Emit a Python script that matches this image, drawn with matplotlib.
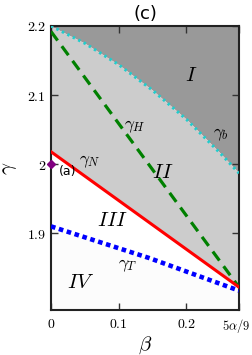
import matplotlib
matplotlib.use("Agg")
import matplotlib.pyplot as plt
import matplotlib.transforms as mtransforms
import numpy as np

plt.rcParams['mathtext.fontset'] = 'cm'

XMAX = 5.0 / 18.0
# boundary curves
beta_b = [0.0, 0.05, 0.10, 0.15, 0.20, 0.25, XMAX]
gamma_b = [2.200, 2.175, 2.144, 2.107, 2.065, 2.016, 1.987]

beta_H = [0.0, XMAX]
gamma_H = [2.192, 1.822]

beta_N = [0.0, XMAX]
gamma_N = [2.018, 1.822]

beta_T = [0.0, 0.1456, XMAX]
gamma_T = [1.910, 1.864, 1.817]

point_a = (0.0, 2.0)

xticks = [0.0, 0.1, 0.2, XMAX]
xticklabels = [r'$0$', r'$0.1$', r'$0.2$', r'$5\alpha/9$']
yticks = [1.9, 2.0, 2.1, 2.2]
yticklabels = [r'$1.9$', r'$2$', r'$2.1$', r'$2.2$']

YMIN, YMAX = 1.789, 2.2

fig = plt.figure(figsize=(2.53, 3.55), dpi=100)
ax = fig.add_axes([0.2016, 0.1268, 0.7431, 0.8000])

bb = np.array(beta_b); gb = np.array(gamma_b)
bT = np.array(beta_T); gT = np.array(gamma_T)
bN = np.array(beta_N); gN = np.array(gamma_N)

# region fills
ax.fill_between(bb, gb, YMAX, color='#999999', lw=0, zorder=0)
grid = np.linspace(0, XMAX, 200)
ax.fill_between(grid, np.interp(grid, bN, gN), np.interp(grid, bb, gb), color='#cccccc', lw=0, zorder=0)
ax.fill_between(grid, YMIN, np.interp(grid, bT, gT), color='#fcfcfc', lw=0, zorder=0)

ax.plot(beta_b, gamma_b, color='#22cccc', ls=(0, (0.8, 1.2)), lw=2.2, zorder=3)
ax.plot(beta_H, gamma_H, color='green', ls=(0, (3.5, 2.2)), lw=2.3, zorder=3)
ax.plot(beta_N, gamma_N, color='red', lw=2.2, zorder=3)
ax.plot(beta_T, gamma_T, color='blue', ls=(0, (1, 0.8)), lw=3.3, zorder=3)

ax.plot([point_a[0]], [point_a[1]], marker='D', color='purple', ms=4, clip_on=False, zorder=5)
ax.text(0.012, 1.99, '(a)', fontsize=9, ha='left', va='center', family='DejaVu Sans')

ax.text(0.207, 2.129, r'$I$', fontsize=15, ha='center', va='center')
ax.text(0.251, 2.044, r'$\gamma_b$', fontsize=12.5, ha='center', va='center')
ax.text(0.165, 1.989, r'$II$', fontsize=15, ha='center', va='center')
ax.text(0.124, 2.055, r'$\gamma_H$', fontsize=12.5, ha='center', va='center')
ax.text(0.057, 2.004, r'$\gamma_N$', fontsize=12.5, ha='center', va='center')
ax.text(0.091, 1.919, r'$III$', fontsize=15, ha='center', va='center')
ax.text(0.113, 1.854, r'$\gamma_T$', fontsize=12.5, ha='center', va='center')
ax.text(0.043, 1.830, r'$IV$', fontsize=15, ha='center', va='center')

ax.set_xlim(0, XMAX)
ax.set_ylim(YMIN, YMAX)
ax.set_xticks(xticks)
ax.set_xticklabels(xticklabels)
ax.set_yticks(yticks)
ax.set_yticklabels(yticklabels)
ax.tick_params(direction='in', top=True, right=True, length=5, width=1, labelsize=10, color='#333333')
ax.tick_params(axis='x', pad=5)
last = ax.get_xticklabels()[-1]
last.set_fontsize(9)
last.set_transform(last.get_transform() + mtransforms.ScaledTranslation(-3 / 100, 0, fig.dpi_scale_trans))
for s in ax.spines.values():
    s.set_linewidth(1.5)
    s.set_color('#222222')

ax.set_xlabel(r'$\beta$', fontsize=15, labelpad=0)
ax.set_ylabel(r'$\gamma$', fontsize=15, labelpad=6)
ax.set_title('(c)', fontsize=13, pad=5, family='DejaVu Sans')

fig.savefig('out.png', dpi=100)
